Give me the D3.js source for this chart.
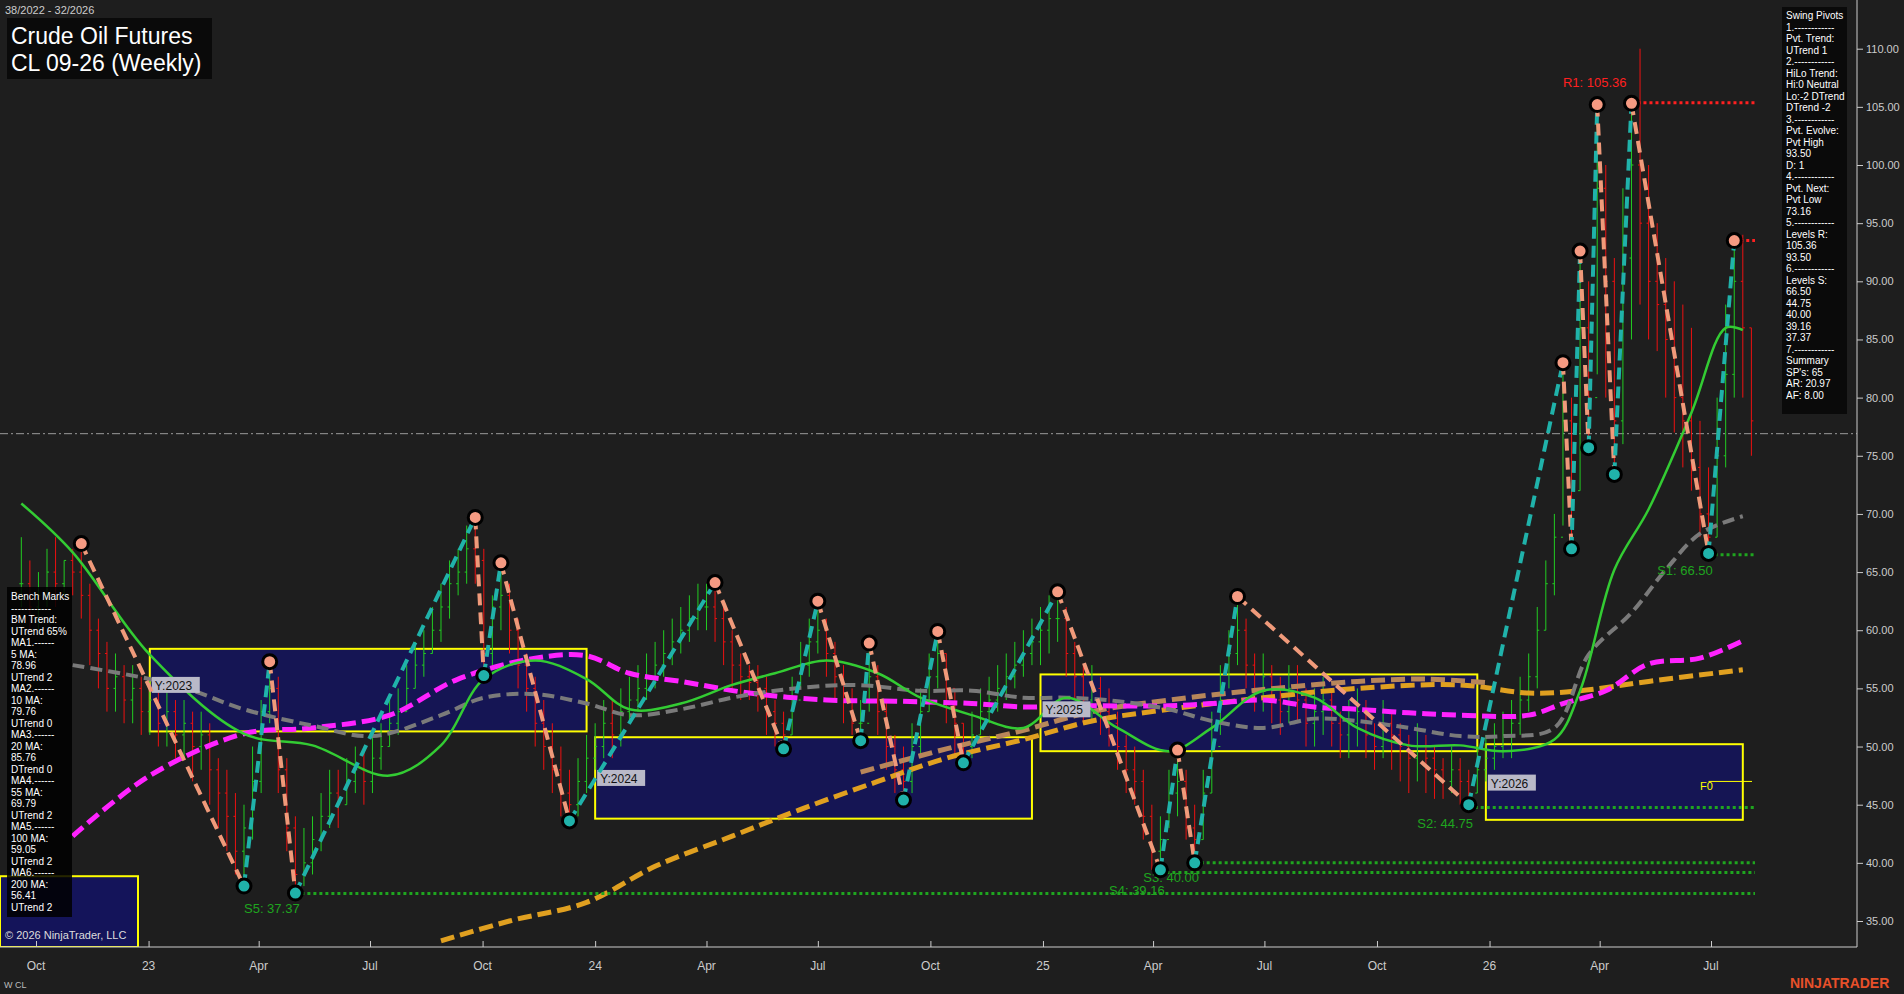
<!DOCTYPE html><html><head><meta charset="utf-8">
<script src="https://cdn.jsdelivr.net/npm/d3@7"></script>
<style>body{margin:0;background:#1e1e1e;overflow:hidden}svg{display:block;font-family:Arial,"Liberation Sans",sans-serif}</style></head><body>
<svg id="c" width="1904" height="994"></svg>
<script>
const startDate = "2022-09-19";
const closes=[64,62,63,65,64,66,65,63,60,58, 55,56,54,55,53,54,52,53,51,52, 50,51,48,46,44,41,43,47,53,55, 48,43,39,40,42,44,46,45,47,48, 47,49,50,52,53,55,57,58,60,62, 64,65,67,66,58,62,63,60,57,55, 52,50,48,46,45,47,49,50,52,51, 53,54,55,56,57,58,59,60,61,62, 62,61,59,57,56,55.5,55,53,52,51,54, 57,59,60,58,56,54,52,52,56,53, 50,48,47,50,53,56,58,55,52,50, 51,53,54,55,56,57,58,59,60,61, 61,58,56,54,55,53,52,50,48,47, 44,41,42,46,47,43,42,46,50,54, 58,60,57,55,56,54,53,55,54,52, 53,54,52,51,52,53,51,50,52,51, 50,49,50,49,48,47,48,47,46,48, 49,50,51,52,54,56,60,64,68,78, 72,86,80,98,90,78,92,100,95,90, 88,85,80,78,74,70,68,75,82,90, 86,78];
const highs=[68,66,65,67,68,66,67,67.5,64,61, 59,58,57,57,56,56,55,55,54,54, 53,53,52,49,48,46,45,50,54,57.3, 56,49,44,43,44,46,48,48,49,50, 50,51,52,54,55,57,59,60,62,64, 66,67,69,69.7,67,63,65.8,64,61,58, 56,54,52,50,48,49,51,52,54,54, 55,56,57,58,59,60,61,62,63,64, 64,64.1,62,60,58,57,57,56,54,53,56, 59,61,62.5,61,59,57,55,54,58.9,57, 54,51,50,52,55,58,59.9,58,55,52, 53,55,56,57,58,59,60,61,62,63, 63.3,62,59,57,57,56,55,53,51,50, 48,45,44,48,49.7,48,45,48,53,57, 60,62.9,61,58,58,57,56,57,57,55, 55,56,55,53,54,55,54,52,54,53, 52,51,52,51,50,49,50,49,48,50, 51,52,53,54,56,58,62,66,70,83, 80,92.6,90,105.2,100,92,98,105.3,110,100, 95,92,90,88,86,78,74,80,88,93.5, 94,86];
const lows=[62,60,60,62,62,63,63,61,57,55, 53,53,52,52,51,51,50,50,49,49, 47,48,45,43,41,39,38,42,46,52, 46,41,37.4,38,39,41,43,43,45,46, 45,46,48,50,51,53,55,56,58,59, 61,63,64,64,56.1,57,60,58,55,53, 50,48,46,44,43.6,44,46,48,49,49, 50,52,53,54,55,56,57,58,59,60, 60,59,57,55,54,54,53,51,50,49.8,51, 55,56,58,56,54,52,51,50.5,53,51, 48,46,45.4,46,49,53,55,52,49,48.6, 49,51,52,53,54,55,56,57,57,58, 59,56,54,52,52,51,50,48,46,45, 42,39.4,40,43,44,42,40,42,46,51, 55,57,55,53,53,52,51,52,52,50, 50,51,50,49,49,50,49,48,49,48, 47,46,47,46,45.5,45.5,46,45,45,46, 47,48,49,49,51,53,55,60,63,69, 67,72,75.7,82,80,73.4,76,85,88,85, 84,80,77,74,72,68,66.6,68,74,80, 80,75];
const pivotWeeks=[7,26,29,32,53,54,56,64,81,89,93,98,99,103,107,110,121,133,135,137,142,169,180,181,182,183,184,186,188,197,200];
const pivotPrices=[67.45,38.0,57.3,37.4,69.7,56.1,65.8,43.6,64.1,49.8,62.5,50.5,58.9,45.4,59.9,48.6,63.3,39.4,49.7,40.0,62.9,45.0,83.0,67.0,92.6,75.7,105.2,73.4,105.3,66.6,93.5];
const maGreen=[[0,70.9],[6,66.7],[15,57.9],[26,51.1],[34,50.1],[43,47.5],[49,50.1],[54,55.8],[60,57.4],[66,55.8],[71,53.2],[77,53.7],[83,55.3],[88,56.3],[94,57.4],[100,56.3],[105,54.2],[111,52.7],[117,51.6],[122,54.2],[128,51.6],[134,49.6],[139,51.6],[145,54.8],[151,54.2],[156,51.6],[162,50.1],[168,50.1],[173,49.6],[179,50.6],[182,54.8],[186,65.2],[190,70.4],[195,78.7],[199,86.0],[201,85.8]];
const maGray=[[6,57],[15,55.8],[20,54.8],[26,53.2],[34,51.8],[41,50.9],[49,52.7],[54,54.2],[60,54.5],[66,53.7],[71,52.7],[77,53.2],[83,54.2],[88,54.8],[97,55.3],[105,54.8],[111,54.8],[117,54.2],[122,54.2],[128,53.9],[134,53.2],[139,52.2],[145,51.6],[151,52.4],[156,52.2],[162,51.6],[168,50.9],[173,50.9],[179,51.6],[183,57.9],[188,61.5],[192,65.2],[196,68.3],[201,69.8]];
const maMagenta=[[6,42.3],[15,47.5],[26,51.1],[34,51.6],[43,52.7],[51,55.8],[60,57.6],[66,57.8],[71,56.3],[77,55.6],[85,54.6],[94,54.0],[102,53.9],[111,53.7],[117,53.4],[122,53.5],[134,53.5],[139,53.7],[145,54.0],[151,53.4],[156,53.2],[162,52.9],[168,52.7],[176,52.7],[180,53.7],[185,54.8],[190,57.1],[196,57.6],[201,59.1]];
const maGold=[[49,33.3],[57,35],[66,36.6],[74,39.7],[83,42.3],[91,44.6],[100,47.0],[108,49.0],[117,50.6],[125,52.2],[134,53.2],[145,54.2],[156,55.0],[168,55.3],[176,54.6],[182,54.8],[190,55.6],[201,56.6]];
const maTan=[[98,47.8],[108,49.8],[117,51.4],[125,53.0],[134,54.0],[145,54.9],[156,55.6],[164,55.8],[171,55.5]];
const yearBoxes=[{y:"Y:2023",w0:15,w1:66,hi:58.4,lo:51.3,ly:55.3},{y:"Y:2024",w0:67,w1:118,hi:50.8,lo:43.8,ly:47.3},{y:"Y:2025",w0:119,w1:170,hi:56.2,lo:49.6,ly:53.2},{y:"Y:2026",w0:171,w1:201,hi:50.2,lo:43.7,ly:46.9}];
const levels=[{name:"R1: 105.36",v:105.36,w:188,col:"#ff2020",lab:true,lw:180,dy:-16},{name:"",v:93.5,w:200,col:"#ff2020",lab:false},{name:"S1: 66.50",v:66.5,w:197,col:"#1fa51f",lab:true,lw:191,dy:20},{name:"S2: 44.75",v:44.75,w:169,col:"#1fa51f",lab:true,lw:163,dy:20},{name:"S3: 40.00",v:40.0,w:137,col:"#1fa51f",lab:true,lw:131,dy:19},{name:"S4: 39.16",v:39.16,w:133,col:"#1fa51f",lab:true,lw:127,dy:22},{name:"S5: 37.37",v:37.37,w:32,col:"#1fa51f",lab:true,lw:26,dy:20}];
const xTicks=[["2022-10-01","Oct"],["2023-01-01","23"],["2023-04-01","Apr"],["2023-07-01","Jul"],["2023-10-01","Oct"],["2024-01-01","24"],["2024-04-01","Apr"],["2024-07-01","Jul"],["2024-10-01","Oct"],["2025-01-01","25"],["2025-04-01","Apr"],["2025-07-01","Jul"],["2025-10-01","Oct"],["2026-01-01","26"],["2026-04-01","Apr"],["2026-07-01","Jul"]];
const yTicks=[35,40,45,50,55,60,65,70,75,80,85,90,95,100,105,110];
const swingText=["Swing Pivots","1.------------","Pvt. Trend:","UTrend 1","2.------------","HiLo Trend:","Hi:0 Neutral","Lo:-2 DTrend","DTrend -2","3.------------","Pvt. Evolve:","Pvt High","93.50","D: 1","4.------------","Pvt. Next:","Pvt Low","73.16","5.------------","Levels R:","105.36","93.50","6.------------","Levels S:","66.50","44.75","40.00","39.16","37.37","7.------------","Summary","SP's: 65","AR: 20.97","AF: 8.00"];
const benchText=["Bench Marks","------------","BM Trend:","UTrend 65%","MA1.------","5 MA:","78.96","UTrend 2","MA2.------","10 MA:","79.76","UTrend 0","MA3.------","20 MA:","85.76","DTrend 0","MA4.------","55 MA:","69.79","UTrend 2","MA5.------","100 MA:","59.05","UTrend 2","MA6.------","200 MA:","56.41","UTrend 2"];

const svg=d3.select("#c");
const pd=d3.timeParse("%Y-%m-%d");
const x=d3.scaleTime().domain([pd("2022-10-01"),pd("2026-07-01")]).range([36,1711]);
const y=d3.scaleLinear().domain([35,110]).range([921,48.7]);
const wd=i=>d3.timeDay.offset(pd(startDate),i*7);
const xw=i=>x(wd(i));
const g=svg.append("g");
svg.append("rect").attr("width",1904).attr("height",994).attr("fill","#1e1e1e").lower();
g.append("rect").attr("x",0).attr("y",y(38.85)).attr("width",138).attr("height",947-y(38.85)).attr("fill","#14145a").attr("stroke","#ffff00").attr("stroke-width",2);
yearBoxes.forEach(b=>{
 g.append("rect").attr("x",xw(b.w0)).attr("y",y(b.hi)).attr("width",xw(b.w1)-xw(b.w0)).attr("height",y(b.lo)-y(b.hi)).attr("fill","#14145a").attr("fill-opacity",0.9).attr("stroke","#ffff00").attr("stroke-width",2);
});
g.append("line").attr("x1",0).attr("x2",1857).attr("y1",y(76.9)).attr("y2",y(76.9)).attr("stroke","#9a9a9a").attr("stroke-dasharray","8,3,2,3");
closes.forEach((c,i)=>{
 const o=i?closes[i-1]:c; const col=c>=o?"#22cc22":"#ee1111"; const xx=xw(i);
 g.append("line").attr("x1",xx).attr("x2",xx).attr("y1",y(highs[i])).attr("y2",y(lows[i])).attr("stroke",col).attr("stroke-width",1);
 g.append("line").attr("x1",xx-2).attr("x2",xx).attr("y1",y(o)).attr("y2",y(o)).attr("stroke",col);
 g.append("line").attr("x1",xx).attr("x2",xx+2).attr("y1",y(c)).attr("y2",y(c)).attr("stroke",col);
});
const ln=d3.line().x(d=>xw(d[0])).y(d=>y(d[1])).curve(d3.curveCatmullRom);
g.append("path").attr("d",ln(maGold)).attr("fill","none").attr("stroke","#e0a020").attr("stroke-width",5).attr("stroke-dasharray","14,6");
g.append("path").attr("d",ln(maTan)).attr("fill","none").attr("stroke","#b8865a").attr("stroke-width",5).attr("stroke-dasharray","14,6");
g.append("path").attr("d",ln(maMagenta)).attr("fill","none").attr("stroke","#ff22ff").attr("stroke-width",5).attr("stroke-dasharray","14,6");
g.append("path").attr("d",ln(maGray)).attr("fill","none").attr("stroke","#7a7a7a").attr("stroke-width",4).attr("stroke-dasharray","12,6");
g.append("path").attr("d",ln(maGreen)).attr("fill","none").attr("stroke","#33cc33").attr("stroke-width",2.5);
levels.forEach(l=>{
 g.append("line").attr("x1",xw(l.w)).attr("x2",1755).attr("y1",y(l.v)).attr("y2",y(l.v)).attr("stroke",l.col).attr("stroke-width",3).attr("stroke-dasharray","3,3");
 if(l.lab) g.append("text").attr("x",xw(l.lw)).attr("y",y(l.v)+l.dy).attr("fill",l.col).attr("font-size",13).text(l.name);
});
g.append("text").attr("x",xw(196)).attr("y",y(46.7)+5).attr("fill","#ffff00").attr("font-size",11).text("F0");
g.append("line").attr("x1",xw(197)).attr("x2",1752).attr("y1",y(47)).attr("y2",y(47)).attr("stroke","#ffff00");
yearBoxes.forEach(b=>{
 const lx=xw(b.w0)+2, ly=y(b.ly);
 g.append("rect").attr("x",lx).attr("y",ly-8).attr("width",48).attr("height",16).attr("fill","#b9b9c8");
 g.append("text").attr("x",lx+3).attr("y",ly+5).attr("fill","#111").attr("font-size",12).text(b.y);
});
const pts=pivotWeeks.map((w,i)=>[xw(w),y(pivotPrices[i])]);
for(let i=0;i<pts.length-1;i++){
 const up=pivotPrices[i+1]>pivotPrices[i];
 g.append("line").attr("x1",pts[i][0]).attr("y1",pts[i][1]).attr("x2",pts[i+1][0]).attr("y2",pts[i+1][1]).attr("stroke",up?"#20b2aa":"#f09a7a").attr("stroke-width",4).attr("stroke-dasharray","12,7");
}
pts.forEach((p,i)=>{
 const hi=i===0?pivotPrices[0]>pivotPrices[1]:pivotPrices[i]>pivotPrices[i-1];
 g.append("circle").attr("cx",p[0]).attr("cy",p[1]).attr("r",7).attr("fill",hi?"#f59a82":"#20b2aa").attr("stroke","#000").attr("stroke-width",3);
});
svg.append("rect").attr("x",1857).attr("y",0).attr("width",47).attr("height",994).attr("fill","#1e1e1e");
svg.append("rect").attr("x",0).attr("y",947).attr("width",1904).attr("height",47).attr("fill","#1e1e1e");
svg.append("line").attr("x1",1857).attr("x2",1857).attr("y1",0).attr("y2",947).attr("stroke","#cccccc");
svg.append("line").attr("x1",0).attr("x2",1857).attr("y1",947).attr("y2",947).attr("stroke","#cccccc");
const ya=svg.append("g").attr("transform","translate(1857,0)").call(d3.axisRight(y).tickValues(yTicks).tickSize(6).tickFormat(d3.format(".2f")));
ya.select(".domain").remove(); ya.selectAll("line").attr("stroke","#ccc"); ya.selectAll("text").attr("fill","#cccccc").attr("font-size",11).attr("font-family","Arial");
const xa=svg.append("g").attr("transform","translate(0,947)").call(d3.axisTop(x).tickValues(xTicks.map(t=>pd(t[0]))).tickSize(6).tickFormat(()=>""));
xa.select(".domain").remove(); xa.selectAll("line").attr("stroke","#ccc");
xTicks.forEach(t=>svg.append("text").attr("x",x(pd(t[0]))).attr("y",970).attr("text-anchor","middle").attr("fill","#cccccc").attr("font-size",12).text(t[1]));
svg.append("text").attr("x",5).attr("y",14).attr("fill","#cccccc").attr("font-size",11).text("38/2022 - 32/2026");
svg.append("rect").attr("x",7).attr("y",18).attr("width",205).attr("height",61).attr("fill","#0a0a0a");
svg.append("text").attr("x",11).attr("y",44).attr("fill","#fff").attr("font-size",23).text("Crude Oil Futures");
svg.append("text").attr("x",11).attr("y",71).attr("fill","#fff").attr("font-size",23).text("CL 09-26 (Weekly)");
svg.append("rect").attr("x",1782).attr("y",7).attr("width",65).attr("height",407).attr("fill","#0a0a0a");
swingText.forEach((t,i)=>svg.append("text").attr("x",1786).attr("y",19+i*11.5).attr("fill","#fff").attr("font-size",10).text(t));
svg.append("rect").attr("x",7).attr("y",587).attr("width",65).attr("height",330).attr("fill","#000").attr("fill-opacity",0.85);
benchText.forEach((t,i)=>svg.append("text").attr("x",11).attr("y",600+i*11.5).attr("fill","#fff").attr("font-size",10).text(t));
svg.append("text").attr("x",5).attr("y",939).attr("fill","#ddd").attr("font-size",11).text("© 2026 NinjaTrader, LLC");
svg.append("text").attr("x",4).attr("y",988).attr("fill","#bbb").attr("font-size",9).text("W CL");
svg.append("text").attr("x",1790).attr("y",988).attr("fill","#e8502a").attr("font-size",14).attr("font-weight","bold").text("NINJATRADER");
</script></body></html>
